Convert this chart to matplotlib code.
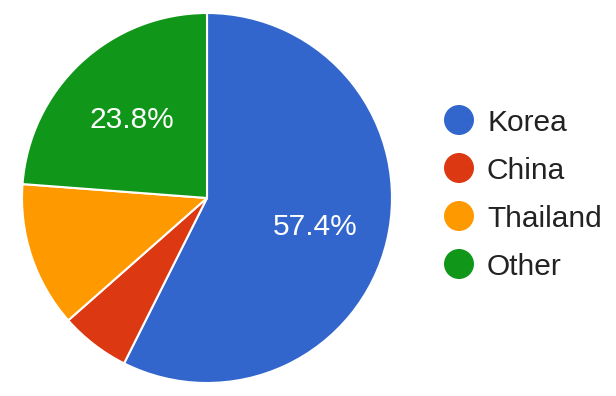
import matplotlib.pyplot as plt

labels = ['Korea', 'China', 'Thailand', 'Other']
values = [57.4, 6.1, 12.7, 23.8]
colors = ['#3366CC', '#DC3912', '#FF9900', '#109618']

plt.rcParams['font.family'] = ['Liberation Sans', 'DejaVu Sans']

W, H = 616, 396
fig = plt.figure(figsize=(W / 100, H / 100), dpi=100)

# pie axes: centre (207, 198), radius 185 px
cx, cy, r = 207, 198, 185
ax = fig.add_axes([(cx - r) / W, (H - cy - r) / H, 2 * r / W, 2 * r / H])

def fmt(p):
    # google only prints the big ones here
    return '%.1f%%' % p if p > 15 else ''

wedges, texts, autotexts = ax.pie(values, colors=colors, startangle=90, counterclock=False,
                                  autopct=fmt, pctdistance=0.6,
                                  wedgeprops=dict(edgecolor='white', linewidth=1.5),
                                  textprops=dict(color='white', fontsize=21.5))
for t in autotexts:
    t.set_va('center_baseline')
ax.set_xlim(-1, 1)
ax.set_ylim(-1, 1)
ax.set_aspect('equal')
ax.axis('off')

# legend in pixel coords
lg = fig.add_axes([0, 0, 1, 1])
lg.set_xlim(0, W)
lg.set_ylim(H, 0)
lg.axis('off')
for i, (lab, col) in enumerate(zip(labels, colors)):
    y = 120 + i * 48
    lg.scatter([459], [y], s=(30 * 0.72) ** 2, color=col, edgecolors='none')
    lg.text(487, y, lab, fontsize=21.5, color='#222222', va='center_baseline', ha='left')

fig.savefig('out.png', dpi=100)
